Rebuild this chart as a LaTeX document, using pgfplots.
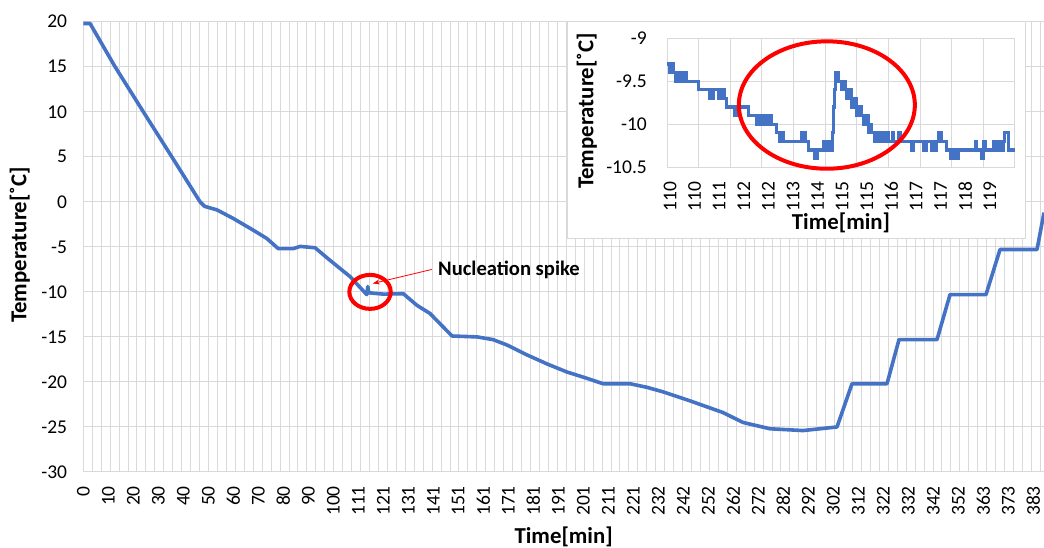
\documentclass[border=0pt]{standalone}
\usepackage{pgfplots}
\pgfplotsset{compat=1.18}
\usepackage{fontspec}
\setmainfont{Carlito}
\usetikzlibrary{arrows.meta}
\definecolor{xlblue}{HTML}{4472C4}
\definecolor{gridgray}{HTML}{D9D9D9}
\begin{document}
\begin{tikzpicture}
\path[use as bounding box] (0,0) rectangle (1044pt,548pt);
\begin{axis}[
  at={(83.3pt,76pt)}, anchor=south west, scale only axis,
  width=960.7pt, height=450.3pt,
  xmin=0, xmax=384.3, ymin=-30, ymax=20,
  axis line style={draw=none},
  major tick length=0pt, minor tick length=0pt,
  /pgf/number format/assume math mode=true,
  xtick={0,10,...,380},
  xticklabels={0,10,20,30,40,50,60,70,80,90,100,111,121,131,141,151,161,171,181,191,201,211,221,232,242,252,262,272,282,292,302,312,322,332,342,352,363,373,383},
  minor xtick={0,3.578,...,384},
  xmajorgrids=false, xminorgrids=true,
  ytick={-30,-25,-20,-15,-10,-5,0,5,10,15,20},
  yticklabels={-30,-25,-20,-15,-10,-5,0,5,10,15,20},
  ymajorgrids=true,
  grid style={draw=gridgray, line width=1pt},
  minor grid style={draw=gridgray, line width=1pt},
  tick label style={font=\fontsize{19.5pt}{22pt}\selectfont, text=black},
  xticklabel style={rotate=90, anchor=east, inner xsep=14pt, inner ysep=0pt},
  yticklabel style={anchor=east, inner xsep=16pt, inner ysep=0pt},
  xlabel={Time[min]}, ylabel={Temperature[˚C]},
  label style={font=\bfseries\fontsize{22.8pt}{26pt}\selectfont},
  xlabel style={at={(axis description cs:0.5,-0.144)}, anchor=center},
  ylabel style={at={(axis description cs:-0.066,0.504)}, anchor=center, rotate=0},
  clip mode=individual,
]
\addplot[xlblue, line width=3.6pt, line join=round] coordinates {
(0,19.8) (2.7,19.8) (12.7,15) (24,10) (35.4,5) (46.7,0) (48.5,-0.5) (53.5,-0.9)
(60,-1.85) (68,-3.15) (73.4,-4.07) (78,-5.2) (84,-5.2) (86.7,-4.95) (92.7,-5.1)
(98.7,-6.5) (106.7,-8.3) (112.7,-10.1) (113.4,-10.3) (113.8,-9.4) (114.2,-10.1)
(120,-10.25) (128,-10.2) (133.5,-11.5) (138.7,-12.4) (147.5,-14.9) (157.5,-15.0)
(163.9,-15.3) (169.5,-15.9) (177.5,-17.0) (185.5,-18.0) (193.5,-18.9) (201.5,-19.6)
(207.9,-20.2) (218.7,-20.2) (225.5,-20.6) (231.9,-21.1) (242.7,-22.1) (255.9,-23.4)
(263.9,-24.5) (274.7,-25.2) (287.9,-25.4) (301.5,-25.0) (307.5,-20.2) (321.5,-20.2)
(326.3,-15.3) (341.5,-15.3) (346.7,-10.3) (361.1,-10.3) (366.7,-5.3) (381.5,-5.3) (384.3,-1.2)
};
\draw[red, line width=4pt] (axis cs:114.7,-10.0) ellipse [x radius=20.7pt, y radius=17pt];
\draw[red, line width=0.8pt, -{Stealth[length=7pt,width=5pt]}] (axis cs:139.4,-7.51) -- (axis cs:115.8,-9.07);
\node[anchor=base west, inner sep=0pt, font=\bfseries\fontsize{20.6pt}{24pt}\selectfont] at (axis cs:141.9,-8.22) {Nucleation spike};
\end{axis}
\filldraw[fill=white, draw=gridgray, line width=1pt] (567pt,309pt) rectangle (1025pt,526pt);
\begin{axis}[
  at={(667pt,380.7pt)}, anchor=south west, scale only axis,
  width=348pt, height=129pt,
  xmin=109.912, xmax=120.097, ymin=-10.5, ymax=-9,
  axis line style={draw=none},
  major tick length=0pt, minor tick length=0pt,
  /pgf/number format/assume math mode=true,
  xtick={110,110.72,111.44,112.16,112.88,113.6,114.32,115.04,115.76,116.48,117.2,117.92,118.64,119.36},
  xticklabels={110,110,111,112,112,113,114,115,115,116,117,117,118,119},
  minor xtick={109.912,110.838,111.764,112.690,113.616,114.542,115.468,116.394,117.320,118.246,119.172,120.096},
  xmajorgrids=false, xminorgrids=true,
  ytick={-10.5,-10,-9.5,-9},
  yticklabels={-10.5,-10,-9.5,-9},
  ymajorgrids=true,
  grid style={draw=gridgray, line width=1pt},
  minor grid style={draw=gridgray, line width=1pt},
  tick label style={font=\fontsize{19.5pt}{22pt}\selectfont, text=black},
  xticklabel style={rotate=90, anchor=east, inner xsep=14pt, inner ysep=0pt},
  yticklabel style={anchor=east, inner xsep=20pt, inner ysep=0pt},
  xlabel={Time[min]}, ylabel={Temperature[˚C]},
  label style={font=\bfseries\fontsize{22.8pt}{26pt}\selectfont},
  xlabel style={at={(axis description cs:0.5,-0.432)}, anchor=center},
  ylabel style={at={(axis description cs:-0.230,0.436)}, anchor=center, rotate=0},
  clip mode=individual,
]
\addplot[xlblue, line width=3.2pt, const plot] coordinates {
(109.92,-9.3) (110.00,-9.4) (110.05,-9.3) (110.10,-9.4) (110.15,-9.5) (110.20,-9.4)
(110.29,-9.5) (110.34,-9.4) (110.39,-9.5) (110.42,-9.4) (110.49,-9.5) (110.83,-9.6)
(111.17,-9.7) (111.27,-9.6) (111.41,-9.7) (111.51,-9.6) (111.58,-9.7) (111.66,-9.8)
(111.90,-9.9) (112.00,-9.8) (112.29,-9.9) (112.54,-10.0) (112.63,-9.9) (112.68,-10.0)
(112.73,-9.9) (112.78,-10.0) (112.88,-9.9) (112.98,-10.0) (113.12,-10.1) (113.22,-10.2)
(113.27,-10.1) (113.32,-10.2) (113.85,-10.1) (113.95,-10.2) (114.05,-10.3) (114.24,-10.4)
(114.30,-10.3) (114.49,-10.2) (114.54,-10.3) (114.63,-10.2) (114.70,-10.3) (114.76,-10.1)
(114.79,-9.8) (114.82,-9.6) (114.85,-9.4) (114.93,-9.5) (115.02,-9.6) (115.08,-9.5)
(115.12,-9.6) (115.17,-9.7) (115.25,-9.6) (115.32,-9.8) (115.40,-9.7) (115.46,-9.9)
(115.55,-9.8) (115.60,-9.9) (115.66,-10.0) (115.72,-9.9) (115.80,-10.1) (115.85,-10.0)
(115.90,-10.1) (116.00,-10.2) (116.05,-10.1) (116.10,-10.2) (116.20,-10.1) (116.24,-10.2)
(116.35,-10.1) (116.39,-10.2) (116.50,-10.1) (116.54,-10.2) (116.68,-10.1) (116.74,-10.2)
(117.07,-10.3) (117.12,-10.2) (117.41,-10.3) (117.51,-10.2) (117.66,-10.3) (117.70,-10.2)
(117.75,-10.3) (117.80,-10.2) (117.85,-10.1) (117.95,-10.2) (118.10,-10.3) (118.20,-10.4)
(118.25,-10.3) (118.29,-10.4) (118.34,-10.3) (118.38,-10.4) (118.44,-10.3) (118.93,-10.2)
(118.98,-10.3) (119.12,-10.4) (119.17,-10.2) (119.22,-10.3) (119.46,-10.2) (119.51,-10.3)
(119.56,-10.2) (119.61,-10.3) (119.66,-10.2) (119.71,-10.3) (119.76,-10.2) (119.80,-10.1)
(119.90,-10.3) (120.10,-10.3)
};
\draw[red, line width=4pt] (axis cs:114.59,-9.776) ellipse [x radius=88pt, y radius=63.7pt];
\end{axis}
\end{tikzpicture}
\end{document}
